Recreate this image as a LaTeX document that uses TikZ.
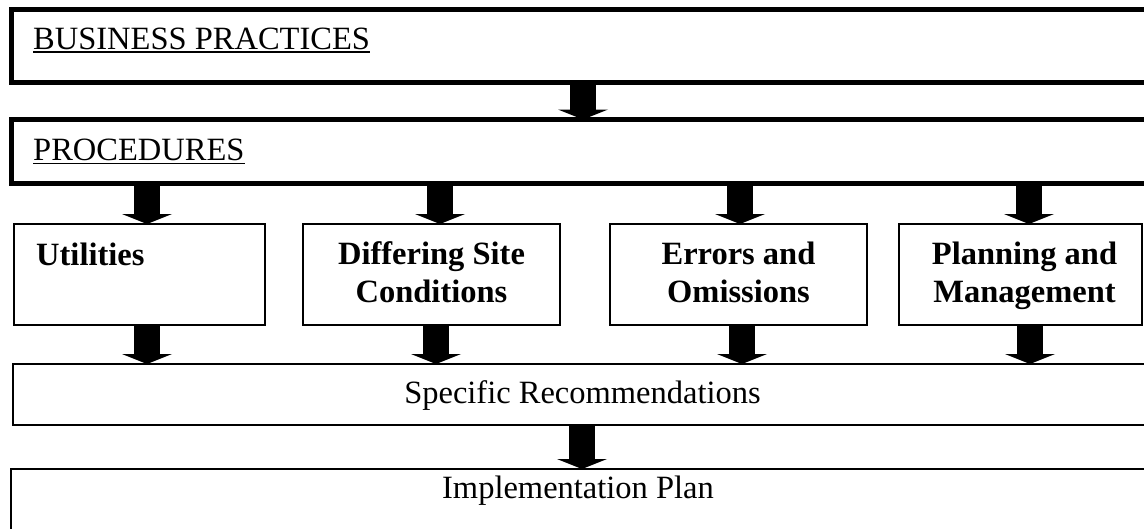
\documentclass[tikz,border=0pt]{standalone}
\usepackage{fontspec}
\setmainfont{Liberation Serif}
\usetikzlibrary{arrows.meta}

\tikzset{
  heavybox/.style={draw, rectangle, line width=5pt, outer sep=0pt, inner sep=0pt, anchor=north west},
  lightbox/.style={draw, rectangle, line width=1.8pt, outer sep=0pt, inner sep=0pt, anchor=north west},
  txt/.style={inner sep=0pt, font=\fontsize{32.5}{38}\selectfont},
  boldtxt/.style={txt, align=center, font=\fontsize{32.5}{38}\selectfont\bfseries},
  blockarrow/.style={line width=26pt, -{Triangle[width=50pt,length=10pt,line width=0pt]}},
  uline/.style={line width=1.5pt}
}

\begin{document}
\begin{tikzpicture}[x=1pt, y=-1pt]
  \useasboundingbox (0,0) rectangle (1144,528);
  \clip (0,0) rectangle (1144,528);

  % top-level bands
  \node[heavybox, minimum width=1140.5pt, minimum height=73pt] (bp) at (11.5,9.5) {};
  \node[heavybox, minimum width=1140.5pt, minimum height=63.5pt] (proc) at (11.5,119.5) {};
  \node[txt, anchor=base west] (bptext) at (33,49) {BUSINESS PRACTICES};
  \node[txt, anchor=base west] (proctext) at (33,160) {PROCEDURES};
  \draw[uline] ([yshift=-2.8pt]bptext.base west) -- ([yshift=-2.8pt]bptext.base east);
  \draw[uline] ([yshift=-3.5pt]proctext.base west) -- ([yshift=-3.5pt]proctext.base east);

  % four topic boxes
  \node[lightbox, minimum width=251pt, minimum height=101pt] (util) at (14,224) {};
  \node[boldtxt, anchor=base west] (utiltext) at (36,265) {Utilities};
  \node[lightbox, minimum width=257pt, minimum height=101pt] (diff) at (303,224) {};
  \node[lightbox, minimum width=257pt, minimum height=101pt] (err) at (610,224) {};
  \node[lightbox, minimum width=243pt, minimum height=101pt] (plan) at (899,224) {};
  \node[boldtxt, yshift=-1pt] (difftext) at (diff.center) {Differing Site\strut\\Conditions\strut};
  \node[boldtxt, yshift=-1pt] (errtext) at (err.center) {Errors and\strut\\Omissions\strut};
  \node[boldtxt, yshift=-1pt, xshift=4pt] (plantext) at (plan.center) {Planning and\strut\\Management\strut};

  % lower bands
  \node[lightbox, minimum width=1139pt, minimum height=61pt] (spec) at (13,364) {};
  \node[txt, anchor=base] (spectext) at (582.5,403) {Specific Recommendations};
  \node[lightbox, minimum width=1141pt, minimum height=71pt] (impl) at (11,469) {};
  \node[txt, anchor=base] (impltext) at (578,498) {Implementation Plan};

  % arrow columns
  \coordinate (c0) at (583,0);
  \coordinate (u1) at (147,0);
  \coordinate (u2) at (440,0);
  \coordinate (u3) at (740,0);
  \coordinate (u4) at (1029,0);
  \coordinate (d1) at (147,0);
  \coordinate (d2) at (436,0);
  \coordinate (d3) at (742,0);
  \coordinate (d4) at (1030,0);
  \coordinate (c5) at (582,0);

  % block arrows
  \draw[blockarrow] (c0 |- bp.south) -- (c0 |- proc.north);
  \draw[blockarrow] (u1 |- proc.south) -- (u1 |- util.north);
  \draw[blockarrow] (u2 |- proc.south) -- (u2 |- diff.north);
  \draw[blockarrow] (u3 |- proc.south) -- (u3 |- err.north);
  \draw[blockarrow] (u4 |- proc.south) -- (u4 |- plan.north);
  \draw[blockarrow] (d1 |- util.south) -- (d1 |- spec.north);
  \draw[blockarrow] (d2 |- diff.south) -- (d2 |- spec.north);
  \draw[blockarrow] (d3 |- err.south) -- (d3 |- spec.north);
  \draw[blockarrow] (d4 |- plan.south) -- (d4 |- spec.north);
  \draw[blockarrow] (c5 |- spec.south) -- (c5 |- impl.north);
\end{tikzpicture}
\end{document}
